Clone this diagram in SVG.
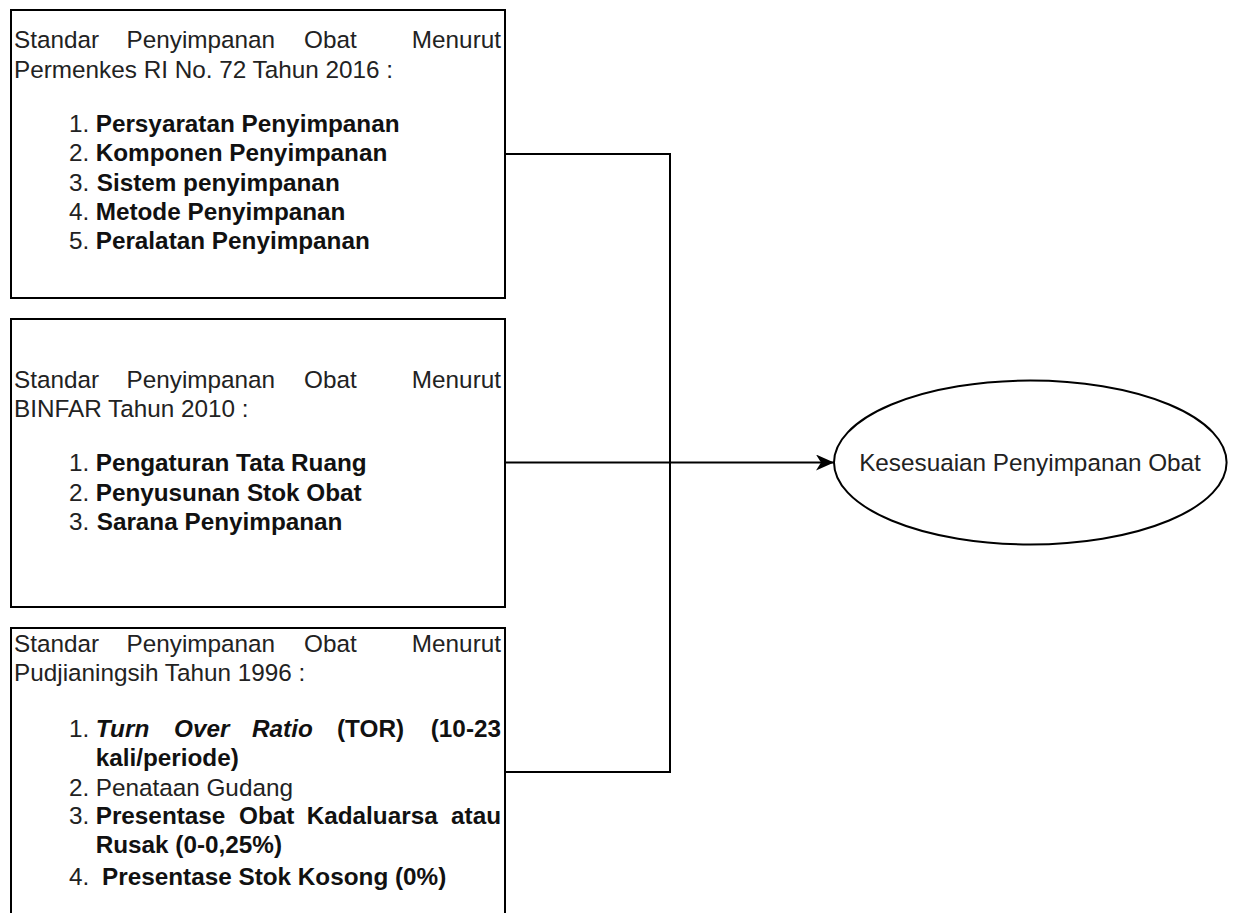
<svg xmlns="http://www.w3.org/2000/svg" width="1233" height="913" viewBox="0 0 1233 913">
  <style>
    .box { fill: #ffffff; stroke: #000000; stroke-width: 2; }
    .conn { fill: none; stroke: #000000; stroke-width: 2; }
    text { font-family: "Liberation Sans", Arial, Helvetica, sans-serif; font-size: 24.3px; fill: #222222; }
    .b { font-weight: bold; fill: #111111; }
    .i { font-style: italic; }
  </style>
  <defs>
    <marker id="arrow" markerUnits="userSpaceOnUse" markerWidth="20" markerHeight="18" refX="18" refY="8" orient="auto">
      <path d="M0,0 L18,8 L0,16 L5,8 Z" fill="#000000"/>
    </marker>
  </defs>
  <rect width="1233" height="913" fill="#ffffff"/>

  <g id="connectors">
    <polyline class="conn" points="505,154 670,154 670,772 505,772"/>
    <line class="conn" x1="505" y1="462.5" x2="834" y2="462.5" marker-end="url(#arrow)"/>
  </g>

  <g id="node-permenkes">
    <rect class="box" x="11" y="10" width="494" height="288"/>
    <text y="48"><tspan x="14">Standar</tspan><tspan x="126.5">Penyimpanan</tspan><tspan x="304">Obat</tspan><tspan x="501" text-anchor="end">Menurut</tspan></text>
    <text x="14" y="77.5">Permenkes RI No. 72 Tahun 2016 :</text>
    <text x="69" y="131.5">1.</text><text class="b" x="95.7" y="131.5">Persyaratan Penyimpanan</text>
    <text x="69" y="161">2.</text><text class="b" x="95.7" y="161">Komponen Penyimpanan</text>
    <text x="69" y="190.5">3.</text><text class="b" x="96.7" y="190.5">Sistem penyimpanan</text>
    <text x="69" y="220">4.</text><text class="b" x="95.7" y="220">Metode Penyimpanan</text>
    <text x="69" y="249">5.</text><text class="b" x="95.7" y="249">Peralatan Penyimpanan</text>
  </g>

  <g id="node-binfar">
    <rect class="box" x="11" y="319" width="494" height="288"/>
    <text y="388"><tspan x="14">Standar</tspan><tspan x="126.5">Penyimpanan</tspan><tspan x="304">Obat</tspan><tspan x="501" text-anchor="end">Menurut</tspan></text>
    <text x="14" y="417">BINFAR Tahun 2010 :</text>
    <text x="69" y="471">1.</text><text class="b" x="95.7" y="471">Pengaturan Tata Ruang</text>
    <text x="69" y="500.5">2.</text><text class="b" x="95.7" y="500.5">Penyusunan Stok Obat</text>
    <text x="69" y="529.5">3.</text><text class="b" x="96.7" y="529.5">Sarana Penyimpanan</text>
  </g>

  <g id="node-pudjianingsih">
    <rect class="box" x="11" y="628" width="494" height="288"/>
    <text y="651.5"><tspan x="14">Standar</tspan><tspan x="126.5">Penyimpanan</tspan><tspan x="304">Obat</tspan><tspan x="501" text-anchor="end">Menurut</tspan></text>
    <text x="14" y="680.5">Pudjianingsih Tahun 1996 :</text>
    <text x="69" y="736.5">1.</text>
    <text class="b" y="736.5"><tspan class="i" x="95.7">Turn</tspan><tspan class="i" x="174">Over</tspan><tspan class="i" x="252">Ratio</tspan><tspan x="337">(TOR)</tspan><tspan x="501" text-anchor="end">(10-23</tspan></text>
    <text class="b" x="95.7" y="765.5">kali/periode)</text>
    <text x="69" y="795.5">2.</text><text x="95.7" y="795.5">Penataan Gudang</text>
    <text x="69" y="824">3.</text>
    <text class="b" y="824"><tspan x="95.7">Presentase</tspan><tspan x="239">Obat</tspan><tspan x="306.7">Kadaluarsa</tspan><tspan x="501" text-anchor="end">atau</tspan></text>
    <text class="b" x="95.7" y="853">Rusak (0-0,25%)</text>
    <text x="69" y="885">4.</text><text class="b" x="102" y="885">Presentase Stok Kosong (0%)</text>
  </g>

  <g id="node-kesesuaian">
    <ellipse class="box" cx="1030.3" cy="462.5" rx="196.3" ry="82"/>
    <text x="1030" y="470.5" text-anchor="middle">Kesesuaian Penyimpanan Obat</text>
  </g>
</svg>
